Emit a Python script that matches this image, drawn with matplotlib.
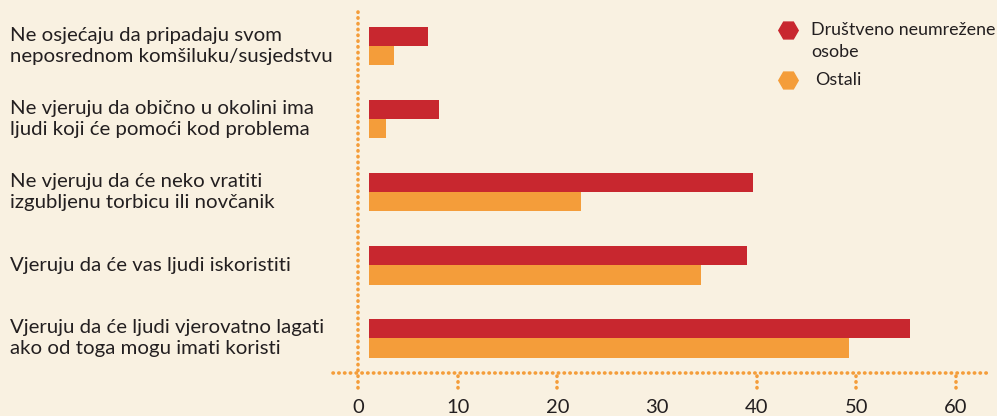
"""Horizontal bar chart: social trust, socially unconnected vs others."""

import matplotlib.pyplot as plt
from matplotlib.lines import Line2D
import numpy as np

categories = [
    "Ne osjećaju da pripadaju svom\nneposrednom komšiluku/susjedstvu",
    "Ne vjeruju da obično u okolini ima\nljudi koji će pomoći kod problema",
    "Ne vjeruju da će neko vratiti\nizgubljenu torbicu ili novčanik",
    "Vjeruju da će vas ljudi iskoristiti",
    "Vjeruju da će ljudi vjerovatno lagati\nako od toga mogu imati koristi",
]
unconnected = [7.0, 8.1, 39.6, 39.0, 55.4]
others = [3.6, 2.8, 22.4, 34.4, 49.3]
series_names = ["Društveno neumrežene", "osobe", "Ostali"]
xticks = [0, 10, 20, 30, 40, 50, 60]
tick_marks = [10, 20, 40, 50, 60]

RED = "#C8272F"
ORANGE = "#F49D3A"
BG = "#F9F1E1"
TEXT = "#231F20"
FONT = ["Lato", "DejaVu Sans"]

plt.rcParams["font.family"] = FONT

fig = plt.figure(figsize=(9.97, 4.16), dpi=100, facecolor=BG)
ax = fig.add_axes([0.359, 0.1034, 0.640, 0.8966])
ax.set_facecolor(BG)

y = np.arange(len(categories))
h = 0.267
gap = 1.1  # bars start a little right of the axis line
ax.barh(y - h / 2, np.array(unconnected) - gap, left=gap, height=h, color=RED)
ax.barh(y + h / 2, np.array(others) - gap, left=gap, height=h, color=ORANGE)

ax.set_xlim(0, 64)
ax.set_ylim(4.479, -0.630)

for s in ax.spines.values():
    s.set_visible(False)

dots = dict(color=ORANGE, lw=2.6, linestyle=(0, (0.1, 1.5)),
            dash_capstyle="round", clip_on=False)
ax.plot([-2.5, 63.4], [4.479, 4.479], **dots)
ax.plot([0, 0], [-0.466, 4.726], **dots)
for t in tick_marks:
    ax.plot([t, t], [4.52, 4.726], **dots)

ax.set_yticks([])
ax.set_xticks(xticks)
ax.set_xticklabels([str(t) for t in xticks], fontsize=14.5, color=TEXT)
ax.tick_params(axis="x", length=0, pad=19)

for i, label in enumerate(categories):
    fig.text(10 / 997, 1 - (46 + 73 * i) / 416, label, fontsize=14.7,
             color=TEXT, ha="left", va="center", linespacing=1.35)

# legend
for (yy, col) in [(30, RED), (80, ORANGE)]:
    fig.add_artist(Line2D([788 / 997], [1 - yy / 416], marker="H", ms=14,
                          color=col, transform=fig.transFigure, lw=0))
fig.text(811 / 997, 1 - 30 / 416, series_names[0], fontsize=12.9,
         color=TEXT, ha="left", va="center")
fig.text(811 / 997, 1 - 52 / 416, series_names[1], fontsize=12.9,
         color=TEXT, ha="left", va="center")
fig.text(815 / 997, 1 - 80 / 416, series_names[2], fontsize=12.9,
         color=TEXT, ha="left", va="center")

fig.savefig("out.png", dpi=100, facecolor=BG)
